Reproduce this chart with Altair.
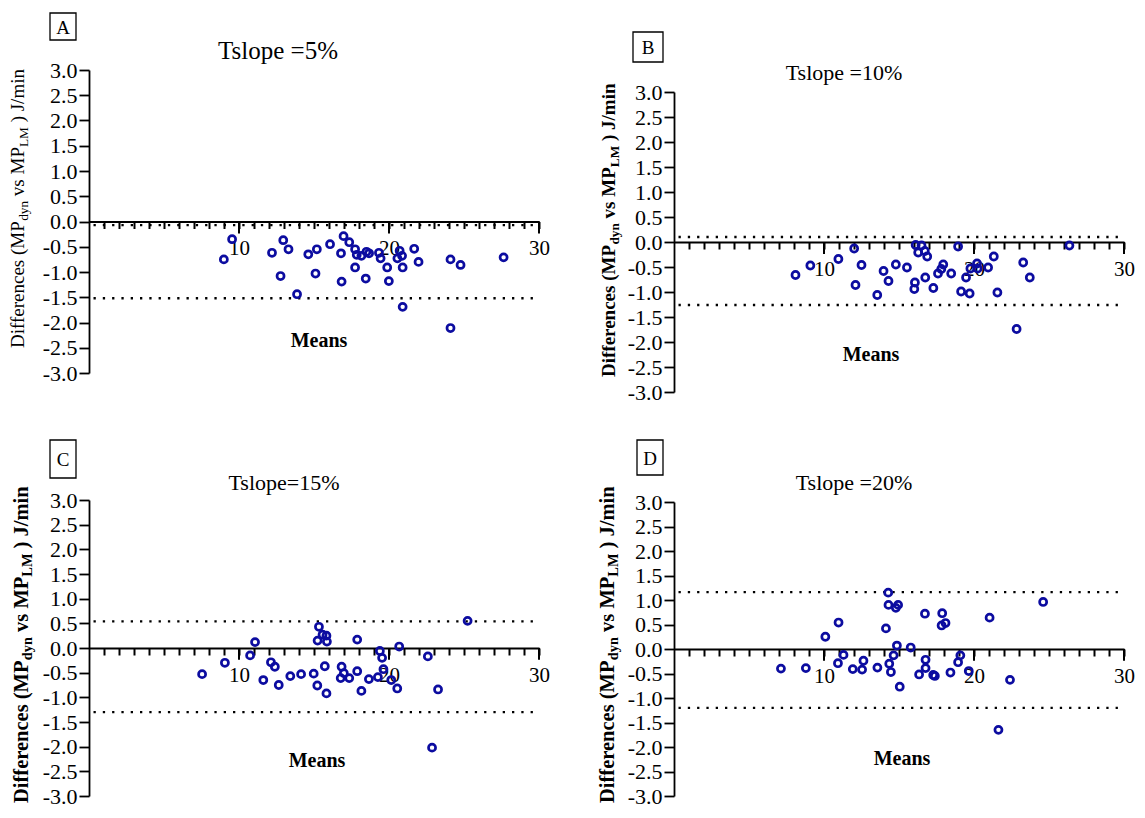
import altair as alt
import pandas as pd

# ---------------- data ----------------
a_mean = [8.99, 9.54, 12.20, 12.95, 13.30, 12.77, 13.87, 14.62, 15.10, 15.19, 16.07, 16.80, 16.84,
          16.97, 17.35, 17.74, 17.74, 17.85, 18.16, 18.45, 18.50, 18.67, 19.33, 19.44, 19.88, 19.99,
          20.56, 20.71, 20.87, 20.91, 20.91, 21.68, 21.97, 24.10, 24.77, 27.64, 24.10]
a_diff = [-0.75, -0.35, -0.62, -0.37, -0.55, -1.08, -1.44, -0.65, -1.03, -0.55, -0.45, -0.63, -1.19,
          -0.29, -0.41, -0.55, -0.91, -0.66, -0.68, -1.13, -0.60, -0.63, -0.62, -0.73, -0.91, -1.18,
          -0.73, -0.58, -0.68, -0.91, -1.69, -0.54, -0.80, -0.75, -0.86, -0.71, -2.11]
a_loa = [-0.07, -1.52]

b_mean = [8.10, 9.09, 10.96, 12.01, 12.50, 12.10, 13.55, 13.97, 14.30, 14.79, 15.53, 16.11, 16.50,
          16.28, 16.72, 16.88, 16.06, 16.02, 16.75, 17.29, 17.60, 17.82, 17.95, 18.48, 18.94, 19.14,
          19.47, 19.71, 19.76, 20.20, 20.24, 20.94, 21.32, 21.56, 23.28, 23.72, 26.36, 22.84]
b_diff = [-0.66, -0.47, -0.34, -0.13, -0.46, -0.86, -1.06, -0.58, -0.78, -0.45, -0.51, -0.06, -0.07,
          -0.21, -0.18, -0.29, -0.81, -0.94, -0.71, -0.92, -0.63, -0.54, -0.45, -0.63, -0.09, -0.99,
          -0.71, -1.03, -0.53, -0.43, -0.53, -0.51, -0.29, -1.01, -0.41, -0.71, -0.07, -1.74]
b_loa = [0.10, -1.26]

c_mean = [7.54, 9.06, 11.07, 10.74, 11.62, 12.13, 12.39, 12.65, 13.42, 14.14, 14.98, 15.22, 15.33,
          15.24, 15.57, 15.83, 15.86, 15.72, 15.83, 16.84, 16.99, 16.78, 17.35, 17.88, 17.88, 18.16,
          18.66, 19.26, 19.39, 19.54, 19.63, 20.15, 20.55, 20.68, 22.59, 23.27, 22.87, 25.24]
c_diff = [-0.53, -0.30, 0.12, -0.15, -0.65, -0.29, -0.38, -0.75, -0.57, -0.53, -0.52, -0.76, 0.43,
          0.15, 0.27, 0.25, 0.13, -0.37, -0.92, -0.38, -0.51, -0.61, -0.61, 0.17, -0.47, -0.87,
          -0.63, -0.59, -0.06, -0.20, -0.43, -0.65, -0.82, 0.03, -0.17, -0.84, -2.02, 0.55]
c_loa = [0.54, -1.30]

d_mean = [7.13, 8.79, 10.09, 10.97, 10.93, 11.30, 11.92, 12.54, 12.63, 13.56, 14.13, 14.28, 14.30,
          14.79, 14.94, 14.35, 14.46, 14.64, 14.86, 15.05, 15.78, 16.34, 16.73, 16.77, 16.77, 17.28,
          17.39, 17.88, 17.84, 18.10, 18.43, 18.94, 19.09, 19.65, 21.04, 21.63, 22.40, 24.61]
d_diff = [-0.40, -0.39, 0.25, 0.54, -0.29, -0.12, -0.41, -0.42, -0.24, -0.38, 0.42, 1.15, 0.90,
          0.84, 0.90, -0.30, -0.47, -0.13, 0.07, -0.77, 0.03, -0.52, 0.72, -0.22, -0.39, -0.53,
          -0.55, 0.73, 0.48, 0.53, -0.48, -0.27, -0.13, -0.45, 0.64, -1.65, -0.63, 0.96]
d_loa = [1.16, -1.20]

panel_letters = ["A", "B", "C", "D"]
panel_titles = ["Tslope =5%", "Tslope =10%", "Tslope=15%", "Tslope =20%"]
x_label = "Means"
y_title_parts = [("Differences (MP", False), ("dyn", True), (" vs MP", False),
                 ("LM", True), (" ) J/min", False)]
y_ticks = [-3.0, -2.5, -2.0, -1.5, -1.0, -0.5, 0.0, 0.5, 1.0, 1.5, 2.0, 2.5, 3.0]
x_ticks = list(range(1, 31))
x_major = [10, 20, 30]

# ---------------- styling ----------------
FONT = "Liberation Serif"
BLUE = "#0c0ca0"
W = 450

# Times (Liberation Serif) advance widths, per 1000 em, used to chain the sub-scripted title
REG = {"D": 722, "i": 278, "f": 333, "e": 444, "r": 333, "n": 500, "c": 444, "s": 389, " ": 250,
       "(": 333, ")": 333, "M": 889, "P": 556, "v": 500, "J": 389, "/": 278, "m": 778, "d": 500,
       "y": 500, "L": 611}
BOLD = {"D": 722, "i": 278, "f": 333, "e": 444, "r": 444, "n": 556, "c": 444, "s": 389, " ": 250,
        "(": 333, ")": 333, "M": 944, "P": 611, "v": 500, "J": 500, "/": 278, "m": 833, "d": 556,
        "y": 500, "L": 667}

one = pd.DataFrame({"k": [0]})


def txt(x, y, s, size, weight="normal", align="center", angle=0, baseline="alphabetic"):
    return alt.Chart(one).mark_text(
        text=s, fontSize=size, fontWeight=weight, font=FONT, align=align,
        baseline=baseline, angle=angle, color="black"
    ).encode(x=alt.value(x), y=alt.value(y))


def ytitle(xb, ys, fs, bold):
    tbl = BOLD if bold else REG
    out = []
    pos = ys
    for text, sub in y_title_parts:
        size = fs * 0.7 if sub else fs
        lead = len(text) - len(text.lstrip(" "))
        pos -= lead * tbl[" "] / 1000 * size
        t = text.strip(" ")
        out.append(txt(xb + (0.2 * fs if sub else 0), pos, t, size,
                       "bold" if bold else "normal", align="left", angle=270))
        pos -= sum(tbl[c] for c in t) / 1000 * size
    return out


def panel(means, diffs, loa, letter, title, c):
    pts = pd.DataFrame({"m": means, "d": diffs})
    lines = pd.DataFrame({"v": loa})
    majors = pd.DataFrame({"t": x_major})
    xs = alt.Scale(domain=[0, 30], nice=False, zero=False)
    ys = alt.Scale(domain=[-3, 3], nice=False, zero=False, range=[c["r0"], c["r1"]])
    xaxis = alt.Axis(
        values=x_ticks, orient="bottom", offset=c["xoff"], title=None, grid=False,
        labelExpr="datum.value % 10 === 0 ? datum.label : ''",
        ticks=True, tickSize=7, tickWidth=2, tickColor="black",
        domainColor="black", domainWidth=1.8,
        labelFont=FONT, labelFontSize=21, labelColor="black", labelPadding=9,
        labelOverlap=False, labelFlush=False,
    )
    yaxis = alt.Axis(
        values=y_ticks, format=".1f", title=None, grid=False,
        labelExpr="replace(datum.label, '\u2212', '-')",
        tickSize=10, tickWidth=1.8, tickColor="black", domainColor="black", domainWidth=1.8,
        labelFont=FONT, labelFontSize=22, labelColor="black", labelPadding=2,
        labelOverlap=False, labelFlush=False,
    )
    rules = alt.Chart(lines).mark_rule(
        color="black", strokeWidth=2.3, strokeDash=[2.3, 7.0]
    ).encode(
        y=alt.Y("v:Q", scale=ys, axis=yaxis),
        x=alt.datum(0.3, scale=xs, axis=xaxis),
        x2=alt.datum(29.6),
    )
    major_ticks = alt.Chart(majors).mark_rule(color="black", strokeWidth=2).encode(
        x=alt.X("t:Q", scale=xs, axis=xaxis),
        y=alt.datum(0, scale=ys, axis=yaxis),
        y2=alt.datum(-0.24),
    )
    points = alt.Chart(pts).mark_point(
        shape="circle", filled=False, size=50, strokeWidth=2.7, color=BLUE, opacity=1
    ).encode(
        x=alt.X("m:Q", scale=xs, axis=xaxis),
        y=alt.Y("d:Q", scale=ys, axis=yaxis),
    )
    bx = c["box"]
    box = alt.Chart(one).mark_rect(
        fill="white", stroke="black", strokeWidth=1.3
    ).encode(x=alt.value(bx[0]), x2=alt.value(bx[1]), y=alt.value(bx[2]), y2=alt.value(bx[3]))
    layers = [rules, major_ticks, points, box,
              txt((bx[0] + bx[1]) / 2, (bx[2] + bx[3]) / 2 + 1, letter, 19, baseline="middle"),
              txt(c["tx"], c["ty"], title, c["tfs"]),
              txt(c["mx"], c["my"], x_label, 20, weight="bold")]
    layers += ytitle(c["yx"], c["yy"], c["yfs"], c["bold"])
    if "anchor" in c:
        ax, ay = c["anchor"]
        layers.append(alt.Chart(one).mark_rule(strokeOpacity=0, color="white").encode(
            x=alt.value(ax), x2=alt.value(ax), y=alt.value(ay), y2=alt.value(ay + 1)))
    return alt.layer(*layers).properties(width=W, height=c["h"])


cfg_a = dict(h=322, r0=303, r1=0, xoff=-170.5, box=(-39, -13, -57, -30), tx=189, ty=-11, tfs=25,
             mx=230, my=277, yx=-65, yy=278, yfs=19, bold=False, anchor=(-81, -62))
cfg_b = dict(h=322, r0=322, r1=22, xoff=-150, box=(-41, -11, -38, -8), tx=170, ty=10, tfs=22,
             mx=197, my=291, yx=-59, yy=307, yfs=19, bold=True)
cfg_c = dict(h=296, r0=296, r1=0, xoff=-148, box=(-39, -13, -60, -22), tx=195, ty=-10, tfs=22,
             mx=228, my=267, yx=-61, yy=303, yfs=20.5, bold=True)
cfg_d = dict(h=296, r0=296, r1=2, xoff=-147, box=(-37, -11, -60, -25), tx=180, ty=-10, tfs=22,
             mx=228, my=265, yx=-60, yy=303, yfs=20.5, bold=True)

pa = panel(a_mean, a_diff, a_loa, panel_letters[0], panel_titles[0], cfg_a)
pb = panel(b_mean, b_diff, b_loa, panel_letters[1], panel_titles[1], cfg_b)
pc = panel(c_mean, c_diff, c_loa, panel_letters[2], panel_titles[2], cfg_c)
pd_ = panel(d_mean, d_diff, d_loa, panel_letters[3], panel_titles[3], cfg_d)

chart = alt.concat(
    pa, pb, pc, pd_, columns=2, spacing={"row": 108, "column": 135}, bounds="flush"
).properties(padding=0, background="white").configure_view(stroke=None)

chart.save("out.html", embed_options={"renderer": "svg", "actions": False})
